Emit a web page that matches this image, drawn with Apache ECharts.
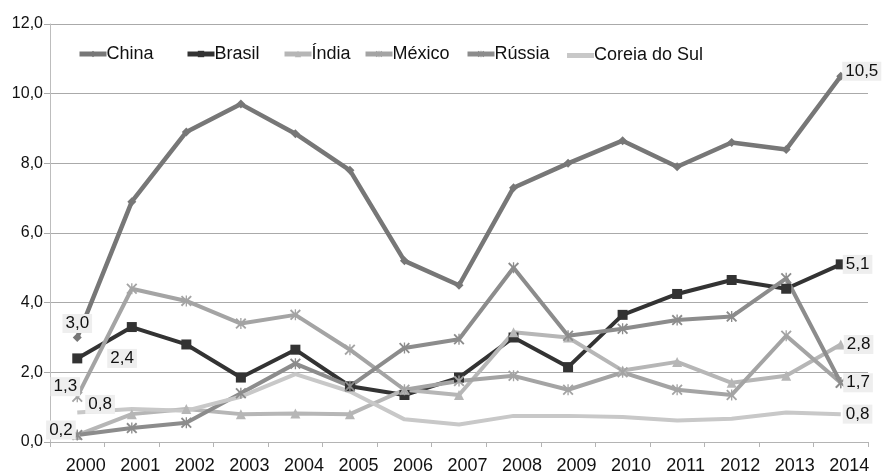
<!DOCTYPE html>
<html>
<head>
<meta charset="utf-8">
<script src="https://cdn.jsdelivr.net/npm/echarts@6/dist/echarts.min.js"></script>
<style>
html,body{margin:0;padding:0;background:#fff;}
#c{width:883px;height:472px;}
</style>
</head>
<body>
<div id="c"></div>
<script>
var years = ['2000','2001','2002','2003','2004','2005','2006','2007','2008','2009','2010','2011','2012','2013','2014'];
var yTicks = [0, 2, 4, 6, 8, 10, 12];
var china  = [3.0, 6.9, 8.9, 9.7, 8.85, 7.8, 5.2, 4.5, 7.3, 8.0, 8.65, 7.9, 8.6, 8.4, 10.5];
var brasil = [2.4, 3.3, 2.8, 1.85, 2.65, 1.6, 1.35, 1.85, 3.0, 2.15, 3.65, 4.25, 4.65, 4.4, 5.1];
var india  = [0.2, 0.8, 0.95, 0.8, 0.82, 0.8, 1.5, 1.35, 3.15, 3.0, 2.05, 2.3, 1.7, 1.9, 2.8];
var mexico = [1.3, 4.4, 4.05, 3.4, 3.65, 2.65, 1.5, 1.75, 1.9, 1.5, 2.0, 1.5, 1.35, 3.05, 1.7];
var russia = [0.2, 0.4, 0.55, 1.4, 2.25, 1.6, 2.7, 2.95, 5.0, 3.05, 3.25, 3.5, 3.6, 4.7, 1.7];
var coreia = [0.85, 0.95, 0.9, 1.3, 1.95, 1.45, 0.65, 0.5, 0.75, 0.75, 0.72, 0.62, 0.67, 0.85, 0.8];

var FONT = 'Liberation Sans';
function fmt(v){ return v.toFixed(1).replace('.', ','); }
var baseLabel = {
  show: true, fontFamily: FONT, fontSize: 17, color: '#111',
  backgroundColor: '#eeeeee', padding: [1, 3],
  formatter: function(p){ return fmt(p.value); }
};
function build(arr, labels){
  return arr.map(function(v, i){
    var item = { value: v };
    if (labels[i]) item.label = Object.assign({}, baseLabel, labels[i]);
    return item;
  });
}
var starPath = 'path://M0,1.2L1.2,0L5,3.8L8.8,0L10,1.2L6.2,5L10,8.8L8.8,10L5,6.2L1.2,10L0,8.8L3.8,5Z M4.4,0L5.6,0L5.6,10L4.4,10Z';

var defs = [
  { name: 'China', color: '#777777', symbol: 'diamond', symbolSize: 9,
    data: build(china, {0: {position: 'top', distance: 0}, 14: {position: 'right', distance: -3, offset: [0, -5]}}) },
  { name: 'Brasil', color: '#333333', symbol: 'rect', symbolSize: 10,
    data: build(brasil, {0: {position: 'right', distance: 25}, 14: {position: 'right', distance: -3}}) },
  { name: 'Índia', color: '#b6b6b6', symbol: 'triangle', symbolSize: 10,
    data: build(india, {14: {position: 'right', distance: -2}}) },
  { name: 'México', color: '#a4a4a4', symbol: starPath, symbolSize: 11,
    data: build(mexico, {0: {position: 'top', distance: 0, offset: [-12, 5]}}) },
  { name: 'Rússia', color: '#8c8c8c', symbol: starPath, symbolSize: 11,
    data: build(russia, {0: {position: 'left', distance: -4, offset: [0, -5]}, 14: {position: 'right', distance: -3}}) },
  { name: 'Coreia do Sul', color: '#c8c8c8', symbol: 'circle', symbolSize: 0.01, hidden: true,
    data: build(coreia, {0: {position: 'right', distance: 8, offset: [0, -8]}, 14: {position: 'right', distance: 2}}) }
];
var series = defs.map(function(s){
  return {
    type: 'line', name: s.name, data: s.data, symbol: s.symbol, symbolSize: s.symbolSize,
    showSymbol: true, showAllSymbol: true,
    lineStyle: { color: s.color, width: s.name === 'China' ? 4.5 : 4 },
    itemStyle: { color: s.color },
    label: { show: false },
    emphasis: { disabled: true }
  };
});

var legendPos = [
  ['China', 77], ['Brasil', 185], ['Índia', 282], ['México', 363], ['Rússia', 465], ['Coreia do Sul', 567]
];
var legends = legendPos.map(function(l, i){
  var d = defs[i];
  var lg = {
    data: [l[0]], left: l[1], top: 45, itemWidth: 27, itemHeight: 8, padding: 0,
    textStyle: { fontFamily: FONT, fontSize: 18, color: '#111', padding: [0, 0, 0, -5] },
    lineStyle: { width: 5 },
    selectedMode: false
  };
  if (d.hidden) {
    lg.data = [{ name: l[0], icon: 'rect' }];
    lg.itemHeight = 5;
    lg.top = 46.5;
    lg.itemStyle = { color: d.color, opacity: 1 };
  }
  return lg;
});

var chart = echarts.init(document.getElementById('c'), null, {renderer: 'canvas'});
chart.setOption({
  animation: false,
  backgroundColor: '#ffffff',
  legend: legends,
  grid: { left: 50, right: 15, top: 24, bottom: 30, containLabel: false, outerBoundsMode: 'none' },
  xAxis: {
    type: 'category', data: years, boundaryGap: true,
    axisLine: { lineStyle: { color: '#b4b4b4', width: 1 } },
    axisTick: { show: true, length: 5, lineStyle: { color: '#b4b4b4' } },
    axisLabel: { fontFamily: FONT, fontSize: 18, color: '#111', margin: 15, padding: [0, 0, 0, 17] }
  },
  yAxis: {
    type: 'value', min: yTicks[0], max: yTicks[yTicks.length - 1], interval: yTicks[1] - yTicks[0],
    axisLine: { show: true, lineStyle: { color: '#bdbdbd' } },
    axisTick: { show: true, length: 6, lineStyle: { color: '#aaaaaa' } },
    splitLine: { lineStyle: { color: '#aaaaaa', width: 1 } },
    axisLabel: { fontFamily: FONT, fontSize: 16, color: '#111', margin: 7,
      formatter: function(v){ return fmt(v); } }
  },
  series: series
});
</script>
</body>
</html>
